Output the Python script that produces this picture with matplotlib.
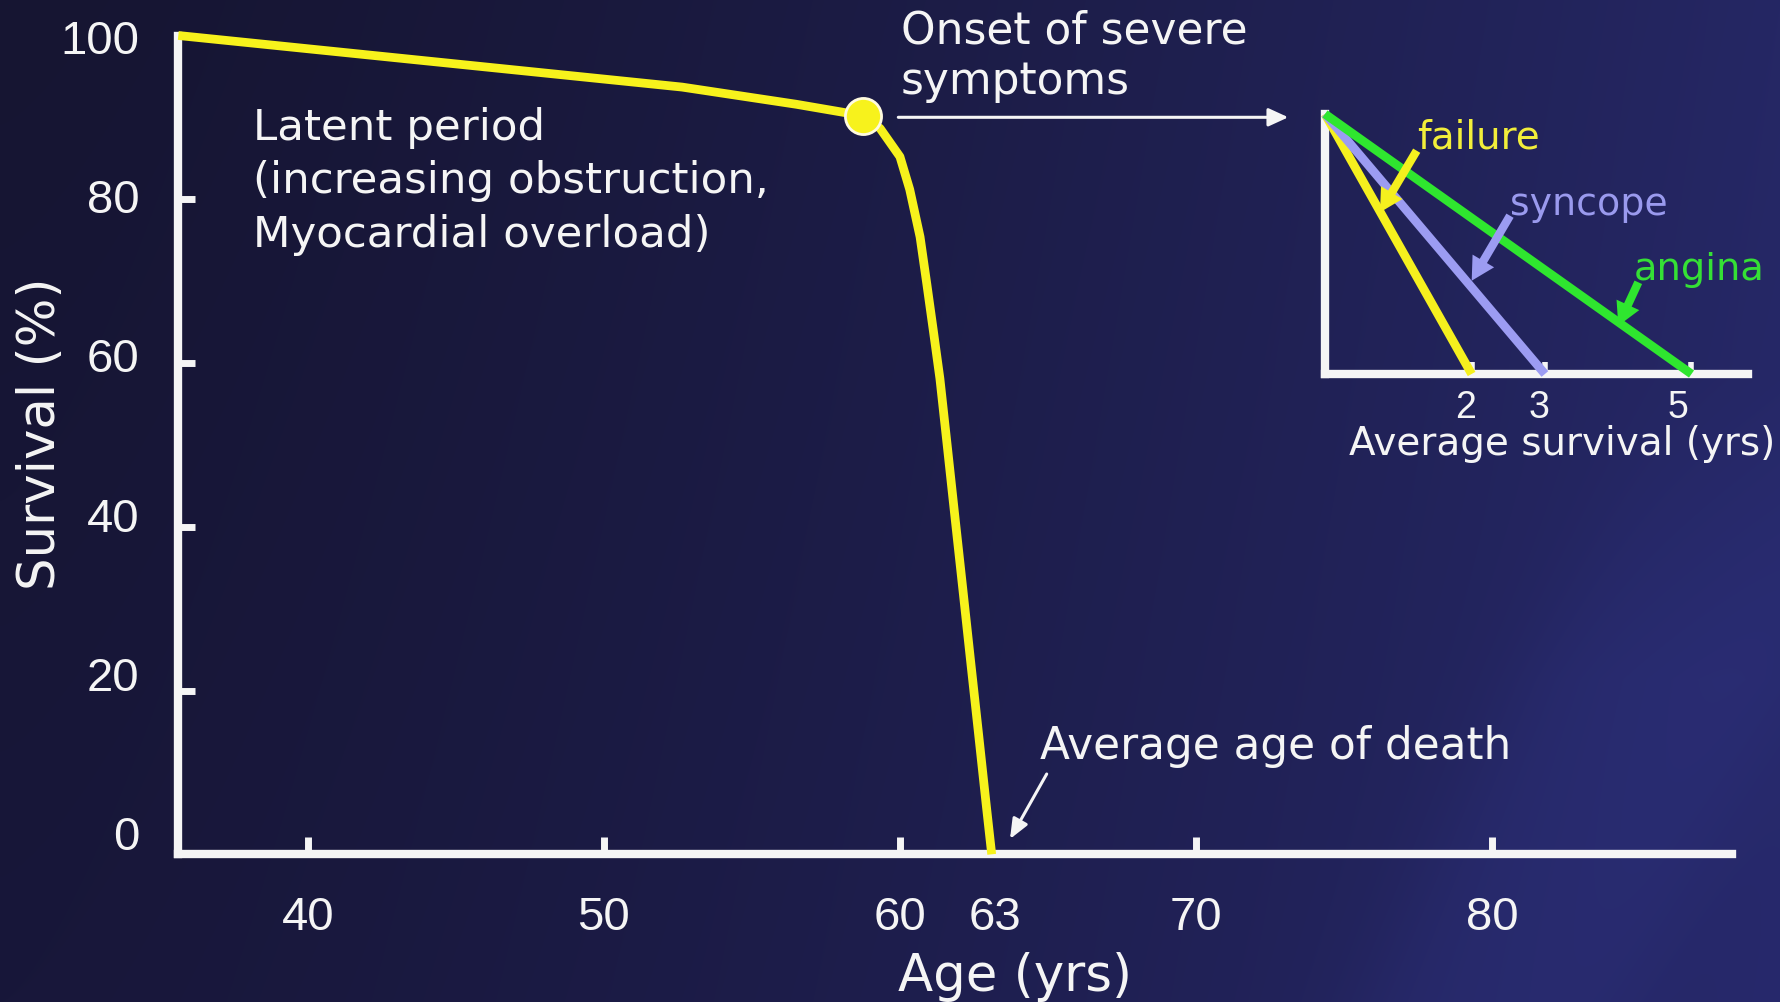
import numpy as np
import matplotlib
matplotlib.use("Agg")
import matplotlib.pyplot as plt
from matplotlib.patches import FancyArrowPatch
from matplotlib.transforms import ScaledTranslation

# ---------------- data ----------------
age_yrs = [35.62, 44.0, 52.64, 56.5, 58.76, 59.33, 60.0, 60.33, 60.68, 60.91,
           61.13, 61.35, 61.61, 61.87, 62.13, 62.39, 62.65, 62.91, 63.10]
survival_pct = [100.0, 96.9, 93.7, 91.6, 90.2, 88.65, 85.2, 81.2, 75.4, 69.6,
                63.9, 58.1, 49.5, 40.8, 32.2, 23.5, 14.9, 6.2, 0.0]
onset_age = 58.76
onset_survival = 90.2
x_ticks = [40, 50, 60, 70, 80]
y_ticks = [0, 20, 40, 60, 80, 100]
death_age = 63

symptoms = ["failure", "syncope", "angina"]
avg_survival_yrs = [2, 3, 5]
inset_ticks = [2, 3, 5]

# ---------------- style ----------------
W, H = 1781, 1003
WHITE = "#f5f5f5"
YEL = "#f7f21c"
SYM_COLORS = {"failure": "#f5f01e", "syncope": "#9c9cf2", "angina": "#2fe62f"}
LBL_COLORS = {"failure": "#f2ee3a", "syncope": "#9a9aee", "angina": "#35e035"}

fig = plt.figure(figsize=(W / 100, H / 100), dpi=100)


def fx(px):
    return px / W


def fy(py):
    return 1 - py / H


def shift(artist, dx_px, dy_px):
    artist.set_transform(artist.get_transform() +
                         ScaledTranslation(dx_px / 100, dy_px / 100,
                                           fig.dpi_scale_trans))


# background gradient
bg = fig.add_axes([0, 0, 1, 1], zorder=-10)
bg.set_axis_off()
yy, xx = np.mgrid[0:H, 0:W].astype(float)
t = (xx / W) ** 1.4
c0 = np.array([22, 21, 50], float)
c1 = np.array([37, 39, 100], float)
img = c0 + (c1 - c0) * t[..., None]
img += (yy / H)[..., None] * np.array([2, 2, 8])
d1 = ((xx - 1367) * 412 + (yy - 1003) * 200) / 458.0
d2 = ((xx - 1650) * 264 + (yy - 961) * 131) / 294.7
band = 1 / (1 + np.exp(-d1 / 25)) * 1 / (1 + np.exp(d2 / 25))
band *= np.clip((yy - 380) / 300, 0, 1)
img += band[..., None] * np.array([4, 5, 12])
bg.imshow(np.clip(img, 0, 255) / 255, extent=[0, 1, 0, 1], aspect="auto",
          transform=bg.transAxes)

# ---------------- main axes ----------------
ax = fig.add_axes([fx(178.3), fy(855.3), (1731.7 - 178.3) / W, (855.3 - 36.5) / H])
ax.patch.set_alpha(0)
ax.set_xlim(35.62, 88.10)
ax.set_ylim(0, 100)
for s in ["top", "right"]:
    ax.spines[s].set_visible(False)
for s in ["left", "bottom"]:
    ax.spines[s].set_color(WHITE)
    ax.spines[s].set_linewidth(6)
    ax.spines[s].set_capstyle("projecting")

ax.set_xticks(x_ticks)
ax.set_xticklabels([str(v) for v in x_ticks])
ax.set_xticks([death_age], minor=True)
ax.set_xticklabels([str(death_age)], minor=True)
ax.set_yticks(y_ticks)
ax.set_yticklabels([str(v) for v in y_ticks])
ax.tick_params(axis="x", which="major", direction="in", length=12, width=5,
               color=WHITE, pad=29, labelsize=34, labelcolor=WHITE)
ax.tick_params(axis="x", which="minor", direction="in", length=0, pad=29,
               labelsize=34, labelcolor=WHITE)
ax.tick_params(axis="y", direction="in", length=12, width=5, color=WHITE,
               pad=28, labelsize=34, labelcolor=WHITE)
for lab in ax.get_xticklabels(which="both") + ax.get_yticklabels():
    lab.set_fontfamily("Liberation Sans")
for tk, v in zip(ax.yaxis.get_major_ticks(), y_ticks):
    shift(tk.label1, 0, (100 - v) / 100 * 22)
    if v in (0, 100):
        tk.tick1line.set_visible(False)
for tk in ax.xaxis.get_minor_ticks():
    shift(tk.label1, 6, 0)

ax.plot(age_yrs, survival_pct, color=YEL, lw=6.3, solid_capstyle="butt",
        solid_joinstyle="round", clip_on=False, zorder=3)
ax.plot([onset_age], [onset_survival], "o", ms=26, mfc=YEL, mec="#fffbe0",
        mew=2, clip_on=False, zorder=4)

# axis labels
fig.text(fx(41), fy(434), "Survival (%)", rotation=90, ha="center", va="center",
         size=37, color=WHITE, family="DejaVu Sans")
fig.text(fx(1015), fy(991), "Age (yrs)", ha="center", va="baseline",
         size=37, color=WHITE, family="DejaVu Sans")

# annotations
for txt, base in zip(["Latent period", "(increasing obstruction,",
                      "Myocardial overload)"], [140, 193, 247]):
    fig.text(fx(253.5), fy(base), txt, ha="left", va="baseline", size=31.3,
             color=WHITE, family="DejaVu Sans")
for txt, base in zip(["Onset of severe", "symptoms"], [43, 94]):
    fig.text(fx(901), fy(base), txt, ha="left", va="baseline", size=31.6,
             color=WHITE, family="DejaVu Sans")
fig.text(fx(1040), fy(758.7), "Average age of death", ha="left",
         va="baseline", size=31.5, color=WHITE, family="DejaVu Sans")

fig.patches.append(FancyArrowPatch(
    (fx(898.3), fy(118.3)), (fx(1288.3), fy(118.3)), transform=fig.transFigure,
    arrowstyle="-|>,head_length=1.2,head_width=0.55", mutation_scale=10,
    color=WHITE, lw=2.2, shrinkA=0, shrinkB=0))
fig.patches.append(FancyArrowPatch(
    (fx(1046.7), fy(775)), (fx(1010), fy(840)), transform=fig.transFigure,
    arrowstyle="-|>,head_length=1.2,head_width=0.5", mutation_scale=10,
    color=WHITE, lw=2.2, shrinkA=0, shrinkB=0))

# ---------------- inset ----------------
ix0, ix1, iy0, iy1 = 1325, 1748, 375, 115
px_per_yr = 73.3
iax = fig.add_axes([fx(ix0), fy(iy0), (ix1 - ix0) / W, (iy0 - iy1) / H])
iax.patch.set_alpha(0)
iax.set_xlim(0, (ix1 - ix0) / px_per_yr)
iax.set_ylim(0, 100)
for s in ["top", "right"]:
    iax.spines[s].set_visible(False)
for s in ["left", "bottom"]:
    iax.spines[s].set_color(WHITE)
    iax.spines[s].set_linewidth(6)
    iax.spines[s].set_capstyle("projecting")
iax.set_yticks([])
iax.set_xticks(inset_ticks)
iax.set_xticklabels([str(v) for v in inset_ticks])
iax.tick_params(axis="x", direction="in", length=9, width=4, color=WHITE,
                pad=11, labelsize=27, labelcolor=WHITE)
for lab in iax.get_xticklabels():
    lab.set_fontfamily("Liberation Sans")
for tk, v in zip(iax.xaxis.get_major_ticks(), inset_ticks):
    shift(tk.label1, -6 if v < 5 else -14, 0)

for name, yrs in zip(symptoms, avg_survival_yrs):
    iax.plot([0, yrs], [100, 0], color=SYM_COLORS[name], lw=6.3,
             solid_capstyle="butt", clip_on=False, zorder=3)

fig.text(fx(1561.7), fy(455), "Average survival (yrs)", ha="center",
         va="baseline", size=28, color=WHITE, family="DejaVu Sans")

label_pos = {"failure": (1417, 148.3), "syncope": (1510.5, 215),
             "angina": (1634, 280)}
label_size = {"failure": 28, "syncope": 27.3, "angina": 27.6}
arrow_pos = {"failure": ((1416.7, 151.7), (1380, 213.3)),
             "syncope": ((1510, 216.7), (1471.7, 281.7)),
             "angina": ((1638.3, 283.3), (1618.3, 326.7))}
for name in symptoms:
    lx, ly = label_pos[name]
    fig.text(fx(lx), fy(ly), name, ha="left", va="baseline",
             size=label_size[name], color=LBL_COLORS[name], family="DejaVu Sans")
    (ax_, ay_), (bx_, by_) = arrow_pos[name]
    fig.patches.append(FancyArrowPatch(
        (fx(ax_), fy(ay_)), (fx(bx_), fy(by_)), transform=fig.transFigure,
        arrowstyle="simple,head_length=1.65,head_width=1.8,tail_width=0.6",
        mutation_scale=10, color=SYM_COLORS[name], lw=0, shrinkA=0, shrinkB=0))

fig.savefig("out.png", dpi=100)
